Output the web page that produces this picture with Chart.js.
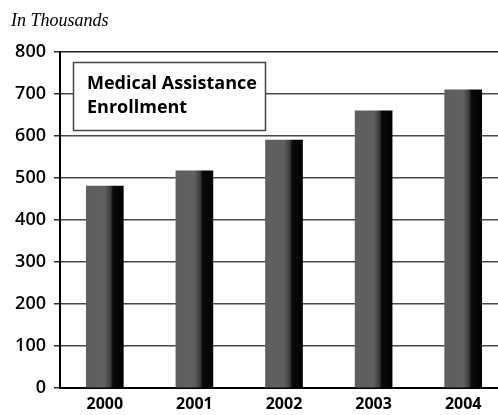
<!DOCTYPE html>
<html>
<head>
<meta charset="utf-8">
<script src="https://cdn.jsdelivr.net/npm/chart.js@4"></script>
<style>
  html, body { margin: 0; padding: 0; background: #fff; overflow: hidden; }
  #wrap { position: relative; width: 508px; height: 415px; }
</style>
</head>
<body>
<div id="wrap"><canvas id="chart" width="508" height="415"></canvas></div>
<script>
const years = ['2000', '2001', '2002', '2003', '2004'];
const enrollment = [481, 517, 590, 660, 710];
const yTicks = [0, 100, 200, 300, 400, 500, 600, 700, 800];
const unitLabel = 'In Thousands';
const boxLines = ['Medical Assistance', 'Enrollment'];

// bars look like a dithered gray with a black right edge
function barFill(context) {
    const chart = context.chart;
    const xScale = chart.scales.x;
    if (!xScale || context.dataIndex === undefined) return '#555';
    const cx = xScale.getPixelForValue(context.dataIndex);
    if (!isFinite(cx)) return '#555';
    const half = 18.5;
    const g = chart.ctx.createLinearGradient(cx - half, 0, cx + half, 0);
    g.addColorStop(0, '#5e5e5e');
    g.addColorStop(0.5, '#606060');
    g.addColorStop(0.66, '#3a3a3a');
    g.addColorStop(0.72, '#0a0a0a');
    g.addColorStop(1, '#000');
    return g;
}

const overlayPlugin = {
    id: 'overlay',
    afterDraw: (chart) => {
        const {ctx} = chart;
        ctx.save();
        ctx.fillStyle = '#000';
        ctx.font = 'italic 18px "Liberation Serif"';
        ctx.textBaseline = 'alphabetic';
        ctx.fillText(unitLabel, 11, 26);

        // title box
        ctx.fillStyle = '#fff';
        ctx.fillRect(73, 62, 193, 69);
        ctx.strokeStyle = '#444';
        ctx.lineWidth = 1.5;
        ctx.strokeRect(73.5, 62.5, 192, 68);
        ctx.fillStyle = '#000';
        ctx.font = 'bold 18px "Open Sans"';
        ctx.fillText(boxLines[0], 87, 89);
        ctx.fillText(boxLines[1], 87, 113);
        ctx.restore();
    }
};

new Chart(document.getElementById('chart').getContext('2d'), {
    type: 'bar',
    data: {
        labels: years,
        datasets: [{
            data: enrollment,
            backgroundColor: barFill,
            borderWidth: 0,
            barThickness: 37
        }]
    },
    options: {
        responsive: false,
        animation: false,
        layout: { padding: { top: 52, left: 0, right: 0, bottom: 0 } },
        plugins: { legend: { display: false }, tooltip: { enabled: false } },
        scales: {
            x: {
                grid: { display: false, drawTicks: false },
                border: { color: '#000', width: 2 },
                ticks: {
                    color: '#000',
                    font: { family: 'Open Sans', size: 16, weight: 'bold' },
                    padding: 7
                },
                afterFit: (scale) => { scale.height = 27; }
            },
            y: {
                min: 0,
                max: 800,
                afterBuildTicks: (scale) => { scale.ticks = yTicks.map(v => ({value: v})); },
                grid: {
                    color: (c) => c.tick && c.tick.value === 800 ? '#222' : '#4a4a4a',
                    lineWidth: 1.5,
                    tickLength: 6,
                    tickColor: '#333'
                },
                border: { color: '#000', width: 2 },
                ticks: {
                    color: '#000',
                    font: { family: 'Open Sans', size: 18, weight: '600' },
                    padding: 8
                },
                afterFit: (scale) => { scale.width = 60; }
            }
        }
    },
    plugins: [overlayPlugin]
});
</script>
</body>
</html>
